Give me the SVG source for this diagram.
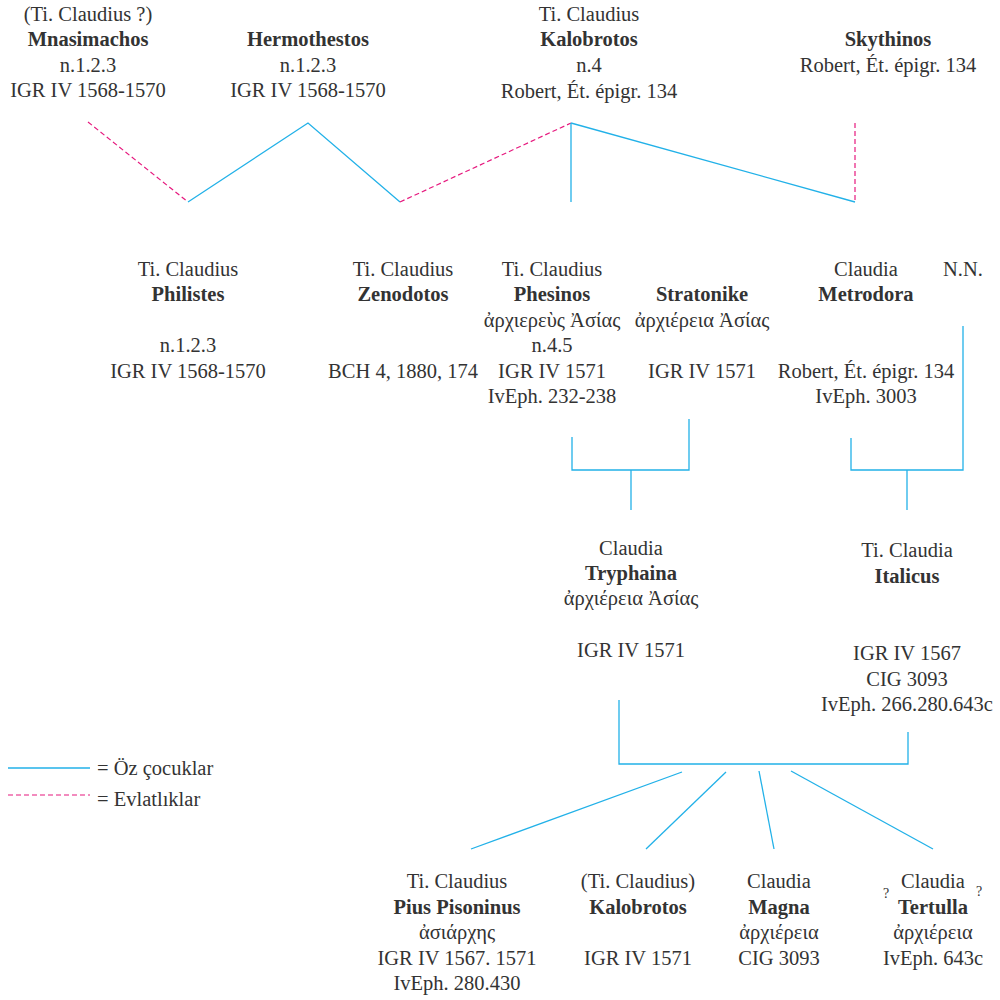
<svg xmlns="http://www.w3.org/2000/svg" width="1000" height="1000" viewBox="0 0 1000 1000">
<style>
text{font-size:20.5px;fill:#333;text-anchor:middle}
.b{font-weight:bold}
.q{font-size:14px}
.l{text-anchor:start}
.c{stroke:#22b1e8;stroke-width:1.3;fill:none}
.d{stroke:#e6197e;stroke-width:1.2;fill:none;stroke-dasharray:5 3}
</style>
<rect width="1000" height="1000" fill="#fff"/>
<g id="connectors">
<line class="d" x1="88" y1="122" x2="188" y2="202"/>
<polyline class="c" points="188,202 308,123 400,202"/>
<line class="d" x1="400" y1="202" x2="571" y2="123"/>
<line class="c" x1="571" y1="123" x2="571" y2="202"/>
<line class="c" x1="571" y1="123" x2="855" y2="202"/>
<line class="d" x1="855" y1="123" x2="855" y2="200"/>
<polyline class="c" points="572,437 572,470 689,470 689,419"/>
<line class="c" x1="631" y1="470" x2="631" y2="510"/>
<polyline class="c" points="851,438 851,470 963,470 963,326"/>
<line class="c" x1="907" y1="470" x2="907" y2="510"/>
<polyline class="c" points="619,700 619,764 908,764 908,732"/>
<line class="c" x1="682" y1="772" x2="471" y2="849"/>
<line class="c" x1="726" y1="772" x2="646" y2="849"/>
<line class="c" x1="759" y1="771" x2="774" y2="849"/>
<line class="c" x1="791" y1="771" x2="933" y2="849"/>
</g>
<g font-family="'Liberation Serif', 'DejaVu Serif', serif">
<g id="legend">
<line class="c" x1="8" y1="768" x2="90" y2="768"/>
<text class="l" x="97" y="775">= Öz çocuklar</text>
<line class="d" x1="8" y1="795" x2="90" y2="795"/>
<text class="l" x="97" y="806">= Evlatlıklar</text>
</g>
<g id="mnasimachos">
<text x="88" y="21">(Ti. Claudius ?)</text>
<text class="b" x="88" y="46">Mnasimachos</text>
<text x="88" y="72">n.1.2.3</text>
<text x="88" y="97">IGR IV 1568-1570</text>
</g>
<g id="hermothestos">
<text class="b" x="308" y="46">Hermothestos</text>
<text x="308" y="72">n.1.2.3</text>
<text x="308" y="97">IGR IV 1568-1570</text>
</g>
<g id="kalobrotos">
<text x="589" y="21">Ti. Claudius</text>
<text class="b" x="589" y="46">Kalobrotos</text>
<text x="589" y="72">n.4</text>
<text x="589" y="98">Robert, Ét. épigr. 134</text>
</g>
<g id="skythinos">
<text class="b" x="888" y="46">Skythinos</text>
<text x="888" y="72">Robert, Ét. épigr. 134</text>
</g>
<g id="philistes">
<text x="188" y="276">Ti. Claudius</text>
<text class="b" x="188" y="301">Philistes</text>
<text x="188" y="352">n.1.2.3</text>
<text x="188" y="378">IGR IV 1568-1570</text>
</g>
<g id="zenodotos">
<text x="403" y="276">Ti. Claudius</text>
<text class="b" x="403" y="301">Zenodotos</text>
<text x="403" y="378">BCH 4, 1880, 174</text>
</g>
<g id="phesinos">
<text x="552" y="276">Ti. Claudius</text>
<text class="b" x="552" y="301">Phesinos</text>
<text x="552" y="327">ἀρχιερεὺς Ἀσίας</text>
<text x="552" y="352">n.4.5</text>
<text x="552" y="378">IGR IV 1571</text>
<text x="552" y="403">IvEph. 232-238</text>
</g>
<g id="stratonike">
<text class="b" x="702" y="301">Stratonike</text>
<text x="702" y="327">ἀρχιέρεια Ἀσίας</text>
<text x="702" y="378">IGR IV 1571</text>
</g>
<g id="metrodora">
<text x="866" y="276">Claudia</text>
<text class="b" x="866" y="301">Metrodora</text>
<text x="866" y="378">Robert, Ét. épigr. 134</text>
<text x="866" y="403">IvEph. 3003</text>
</g>
<g id="nn">
<text x="963" y="276">N.N.</text>
</g>
<g id="tryphaina">
<text x="631" y="555">Claudia</text>
<text class="b" x="631" y="580">Tryphaina</text>
<text x="631" y="605">ἀρχιέρεια Ἀσίας</text>
<text x="631" y="657">IGR IV 1571</text>
</g>
<g id="italicus">
<text x="907" y="557">Ti. Claudia</text>
<text class="b" x="907" y="583">Italicus</text>
<text x="907" y="660">IGR IV 1567</text>
<text x="907" y="686">CIG 3093</text>
<text x="907" y="711">IvEph. 266.280.643c</text>
</g>
<g id="pius">
<text x="457" y="888">Ti. Claudius</text>
<text class="b" x="457" y="914">Pius Pisoninus</text>
<text x="457" y="939">ἀσιάρχης</text>
<text x="457" y="965">IGR IV 1567. 1571</text>
<text x="457" y="990">IvEph. 280.430</text>
</g>
<g id="kalobrotos2">
<text x="638" y="888">(Ti. Claudius)</text>
<text class="b" x="638" y="914">Kalobrotos</text>
<text x="638" y="965">IGR IV 1571</text>
</g>
<g id="magna">
<text x="779" y="888">Claudia</text>
<text class="b" x="779" y="914">Magna</text>
<text x="779" y="939">ἀρχιέρεια</text>
<text x="779" y="965">CIG 3093</text>
</g>
<g id="tertulla">
<text x="933" y="888">Claudia</text>
<text class="b" x="933" y="914">Tertulla</text>
<text x="933" y="939">ἀρχιέρεια</text>
<text x="933" y="965">IvEph. 643c</text>
<text class="q" x="886" y="898">?</text>
<text class="q" x="979" y="896">?</text>
</g>
</g>
</svg>
